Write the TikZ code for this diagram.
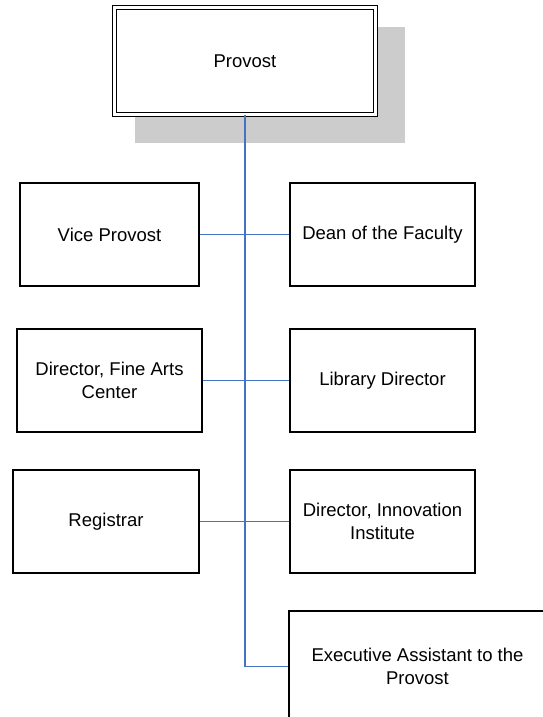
\documentclass[tikz,border=0pt]{standalone}
\usepackage{fontspec}
\setmainfont{Liberation Sans}
\definecolor{connblue}{HTML}{4472C4}
\definecolor{shadowgray}{HTML}{CCCCCC}
\begin{document}
\begin{tikzpicture}[x=1pt,y=-1pt,
  box/.style={draw=black, line width=1.4pt, fill=white, align=center,
    inner sep=0pt, font=\fontsize{18.5}{23}\selectfont, minimum height=103pt},
  conn/.style={draw=connblue, line width=1.3pt}]
\useasboundingbox (0,0) rectangle (542,717);
% shadow
\fill[shadowgray] (135,27) rectangle (405,143);
% nodes
\node[box, double, double distance=2.6pt, line width=1.1pt,
      minimum width=261pt, minimum height=106.5pt] (prov) at (245,61) {Provost};
\node[box, minimum width=179pt] (vp) at (109.5,234.5) {Vice Provost};
\node[box, minimum width=185pt] (dean) at (382.5,234.5) {Dean of the Faculty};
\node[box, minimum width=185pt] (fac) at (109.5,380.5) {Director, Fine Arts\\Center};
\node[box, minimum width=185pt] (lib) at (382.5,380.5) {Library Director};
\node[box, minimum width=186pt] (reg) at (106,521.5) {Registrar};
\node[box, minimum width=185pt] (inn) at (382.5,521.5) {Director, Innovation\\Institute};
\node[box, minimum width=257pt, minimum height=111pt] (ea) at (417.5,666.5) {Executive Assistant to the\\Provost};
% connectors
\draw[conn] (prov.south) |- (ea.west);
\draw[conn] (vp.east) -- (dean.west);
\draw[conn] (fac.east) -- (lib.west);
\draw[conn] (reg.east) -- (inn.west);
\end{tikzpicture}
\end{document}
